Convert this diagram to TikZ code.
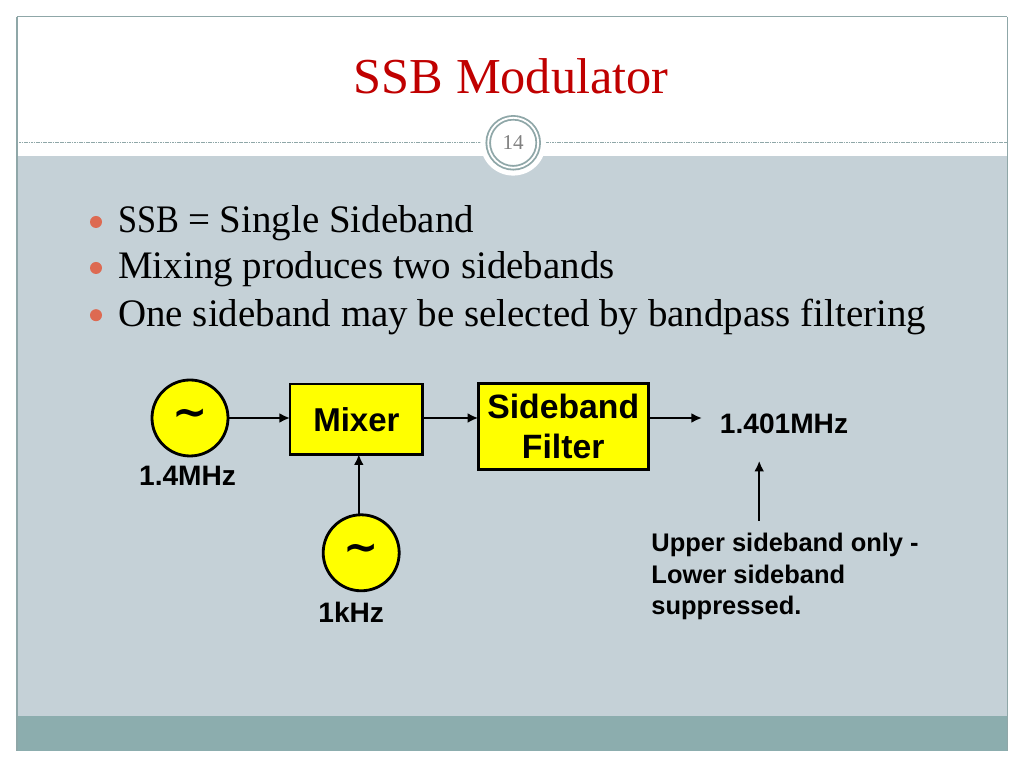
\documentclass[tikz,border=0pt]{standalone}
\usepackage{fontspec}
\setmainfont{Liberation Serif}
\newfontfamily\blockfont{Liberation Sans}
\newfontfamily\wavefont{DejaVu Sans}
\usetikzlibrary{arrows.meta,positioning,calc}

\definecolor{panelgray}{HTML}{C5D1D7}
\definecolor{footteal}{HTML}{8CADAE}
\definecolor{rulegray}{HTML}{8FA7A8}
\definecolor{titlered}{HTML}{C00000}
\definecolor{dotorange}{HTML}{DD6A52}
\definecolor{boxyellow}{RGB}{255,255,0}

\tikzset{
    block/.style={draw, line width=2pt, fill=boxyellow, align=center, inner sep=0pt, outer sep=0pt},
    osc/.style={circle, draw, line width=2pt, fill=boxyellow, minimum size=1.9cm, inner sep=0pt, outer sep=0pt, font=\wavefont\bfseries\fontsize{30}{30}\selectfont},
    tag/.style={font=\blockfont\bfseries\fontsize{20}{24}\selectfont, inner sep=0pt},
    link/.style={-{Latex[length=7.5pt,width=7pt]}, line width=1.8pt},
    item/.style={anchor=west, inner sep=0pt, font=\fontsize{27.7}{30}\selectfont},
    dot/.style={circle, fill=dotorange, minimum size=0.3cm, inner sep=0pt}
}

\begin{document}
\begin{tikzpicture}
    \useasboundingbox (0,0) rectangle (25.6,19.2);
    \fill[white] (0,0) rectangle (25.6,19.2);

    % Slide background
    \fill[panelgray] (0.42,1.3) rectangle (25.18,15.3);
    \fill[footteal] (0.42,0.43) rectangle (25.18,1.3);
    \draw[rulegray, line width=1pt] (0.42,18.78) -- (25.18,18.78);
    \draw[rulegray, line width=1pt] (0.42,18.78) -- (0.42,0.43);
    \draw[rulegray, line width=0.6pt] (25.18,18.78) -- (25.18,0.43);

    % Title and page number
    \node[text=titlered, font=\fontsize{35.8}{40}\selectfont] (title) at (12.78,17.3) {SSB Modulator};
    \draw[rulegray, dash pattern=on 1.2pt off 0.5pt, line width=0.9pt] (0.42,15.63) -- (25.18,15.63);
    \node[circle, fill=white, minimum size=1.64cm, inner sep=0pt] (badge) at (12.83,15.63) {};
    \node[circle, draw=rulegray, double=white, double distance=1.3pt, line width=1.3pt, fill=white, minimum size=1.25cm, inner sep=0pt, text=gray, font=\fontsize{15}{15}\selectfont] (page) at (12.83,15.63) {14};

    % Bullets
    \node[dot] (dota) at (2.4,13.65) {};
    \node[dot] (dotb) at (2.4,12.5) {};
    \node[dot] (dotc) at (2.4,11.32) {};
    \node[item] (linea) at (2.95,13.62) {\scalebox{0.88}[1]{SSB}\hspace{0.24em}=\hspace{0.24em}Single Sideband};
    \node[item] (lineb) at (2.95,12.46) {Mixing produces two sidebands};
    \node[item] (linec) at (2.95,11.28) {One sideband may be selected by bandpass filtering};

    % Blocks
    \node[osc] (carrier) at (4.75,8.75) {\raisebox{-0.1cm}{∼}};
    \node[osc] (tone) at (9.03,5.38) {\raisebox{-0.1cm}{∼}};
    \node[block, minimum width=3.32cm, minimum height=1.76cm, font=\blockfont\bfseries\fontsize{23.5}{28}\selectfont] (mixer) at (8.91,8.72) {Mixer};
    \node[block, minimum width=4.25cm, minimum height=2.14cm, font=\blockfont\bfseries\fontsize{24}{29}\selectfont] (filter) at (14.08,8.54) {Sideband\\Filter};

    % Labels
    \node[tag] (carrierlabel) at (4.69,7.3) {1.4MHz};
    \node[tag] (tonelabel) at (8.78,3.9) {1kHz};
    \node[tag] (output) at (19.6,8.6) {1.401MHz};
    \node[tag, anchor=north west, align=left, font=\blockfont\bfseries\fontsize{18.1}{22.4}\selectfont] (note) at (16.28,5.87) {Upper sideband only -\\Lower sideband\\suppressed.};

    % Free ends
    \coordinate (outend) at (17.55,8.75);
    \coordinate (notetip) at (18.98,7.68);
    \coordinate (notetail) at (18.98,6.18);
    \coordinate (tonetop) at (8.97,6.3);

    % Arrows
    \draw[link] (carrier) -- (carrier -| mixer.west);
    \draw[link] (mixer.east |- carrier) -- (carrier -| filter.west);
    \draw[link] (filter.east |- outend) -- (outend);
    \draw[link] (tonetop) -- (tonetop |- mixer.south);
    \draw[link] (notetail) -- (notetip);
\end{tikzpicture}
\end{document}
